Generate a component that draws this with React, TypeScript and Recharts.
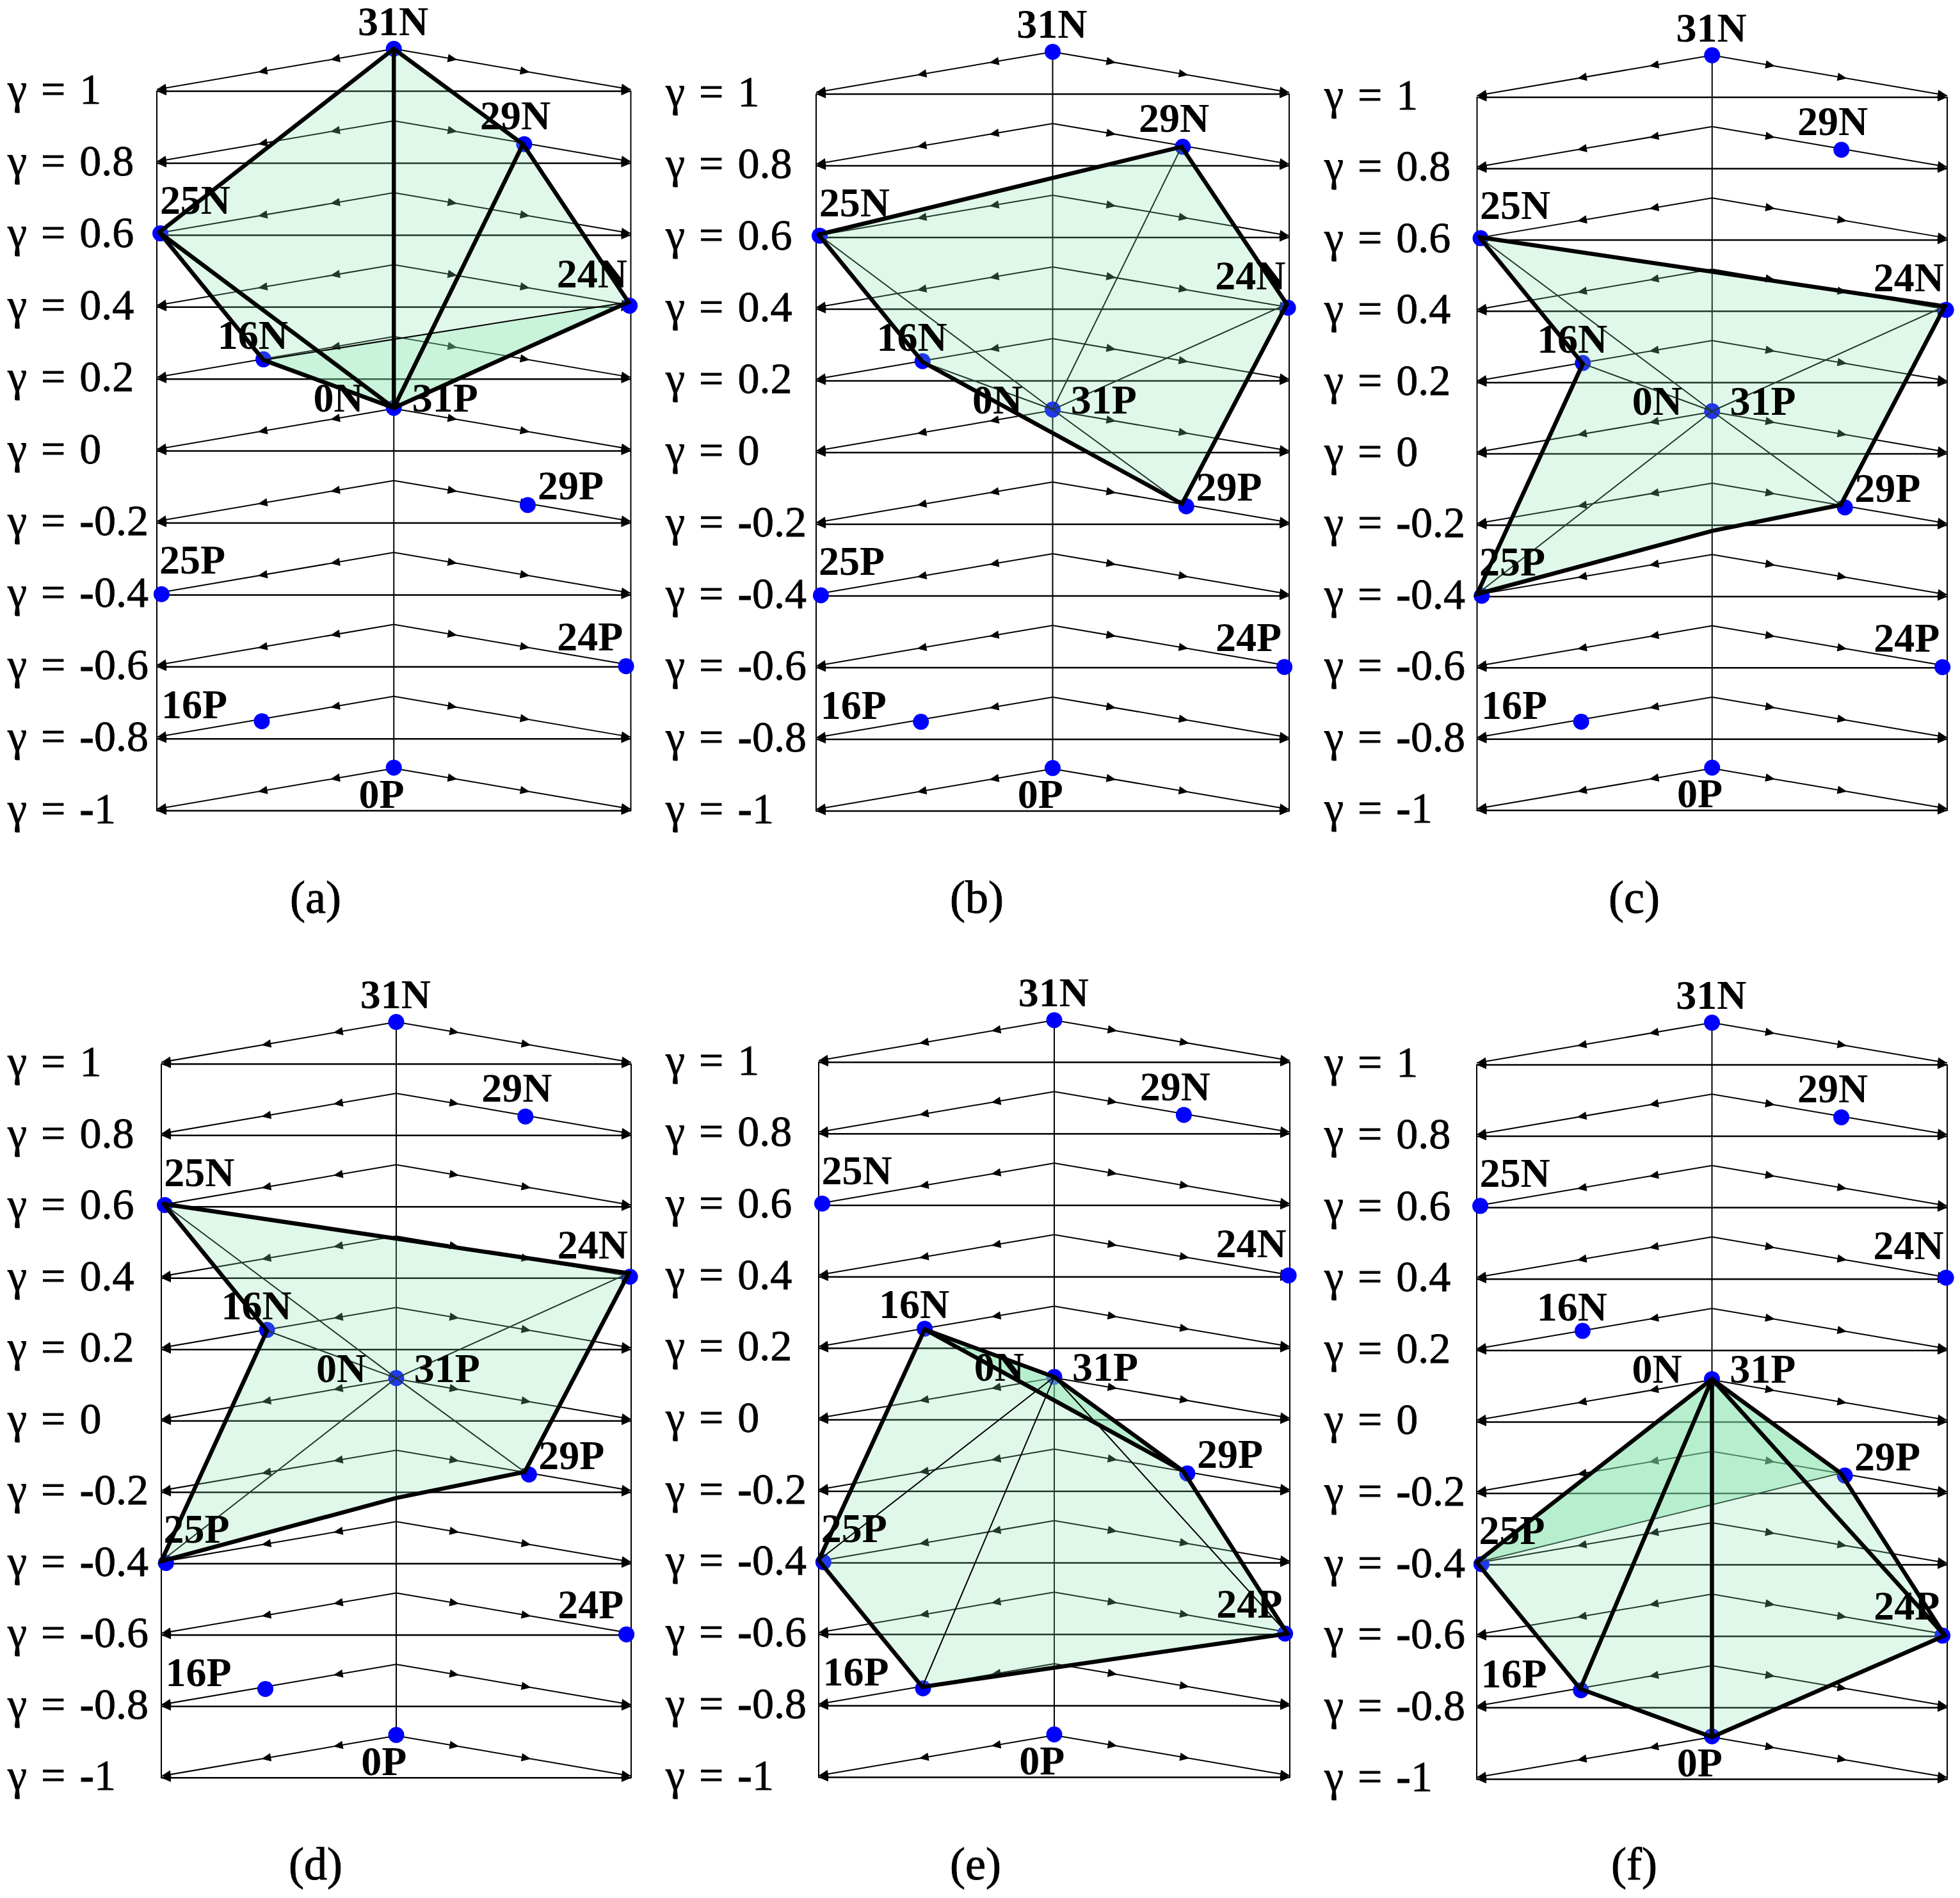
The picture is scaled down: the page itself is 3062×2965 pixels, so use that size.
import React from 'react';
import { ScatterChart, Scatter, XAxis, YAxis } from 'recharts';

const gammaLevels = [1, 0.8, 0.6, 0.4, 0.2, 0, -0.2, -0.4, -0.6, -0.8, -1];
const chevronApex = [1.118, 0.918, 0.718, 0.518, 0.318, 0.118, -0.082, -0.282, -0.482, -0.682, -0.882];
const chevronEnds = [1.005, 0.805, 0.605, 0.405, 0.205, 0.005, -0.195, -0.395, -0.595, -0.795, -0.995];

const nodeNames = ['31N', '29N', '25N', '24N', '16N', 'A', '29P', '25P', '24P', '16P', '0P'];
const dotX = [0, 0.55, -0.985, 0.995, -0.55, 0, 0.565, -0.98, 0.98, -0.557, 0];
const dotY = [1.118, 0.853, 0.605, 0.404, 0.255, 0.12, -0.15, -0.398, -0.598, -0.751, -0.88];
const cornerX = [0, 0.545, -0.99, 0.99, -0.55, 0, 0.547, -1, 0.99, -0.56, 0];
const cornerY = [1.118, 0.853, 0.608, 0.414, 0.253, 0.12, -0.143, -0.393, -0.598, -0.747, -0.882];

// the lower edge of (c) and (d) bends where it crosses the centre line
const bendX = 0;
const bendY = -0.216;

const labelNames = ['31N', '29N', '25N', '24N', '16N', '0N', '31P', '29P', '25P', '24P', '16P', '0P'];
const labelX = [-0.003, 0.513, -0.838, 0.836, -0.595, -0.234, 0.216, 0.746, -0.85, 0.828, -0.842, -0.052];
const labelY = [1.194, 0.932, 0.696, 0.493, 0.322, 0.147, 0.147, -0.097, -0.304, -0.516, -0.706, -0.954];

const panelNames = ['(a)', '(b)', '(c)', '(d)', '(e)', '(f)'];

const fillsA = [['25N', '31N', '29N', '24N', 'A', '16N'], ['16N', '24N', 'A']];
const boldA = [['25N', '31N', '29N', '24N', 'A', '16N', '25N'], ['25N', 'A'], ['31N', 'A'], ['29N', 'A']];
const thinOverA = [['16N', '24N']];

const fillsB = [['25N', '29N', '24N', '29P', '16N']];
const boldB = [['25N', '29N', '24N', '29P', '16N', '25N']];
const thinUnderB = [['A', '25N'], ['A', '29N'], ['A', '24N'], ['A', '29P'], ['A', '16N']];

const fillsC = [['25N', '24N', '29P', 'bend', '25P', '16N']];
const boldC = [['25N', '24N', '29P', 'bend', '25P', '16N', '25N']];
const thinUnderC = [['A', '25N'], ['A', '16N'], ['A', '24N'], ['A', '29P'], ['A', '25P']];

const fillsE = [['16N', 'A', '29P', '24P', '16P', '25P'], ['16N', 'A', '29P'], ['16N', 'A', '29P']];
const boldE = [['16N', 'A', '29P', '24P', '16P', '25P', '16N'], ['16N', '29P']];
const thinOverE = [['A', '25P'], ['A', '16P'], ['A', '24P']];

const fillsF = [['A', '29P', '24P', '0P', '16P', '25P'], ['A', '25P', '29P'], ['A', '25P', '29P']];
const boldF = [['A', '29P', '24P', '0P', '16P', '25P', 'A'], ['A', '16P'], ['A', '0P'], ['A', '24P']];
const thinUnderF = [['25P', '29P']];

const panels = [
    { frameX: 0, plotLeft: 245, plotRight: 985.5, top: 143, bottom: 1267, textX: 12, captionY: 1366, fills: fillsA, bold: boldA, thinUnder: [], thinOver: thinOverA },
    { frameX: 1020, plotLeft: 1275, plotRight: 2014, top: 147, bottom: 1267, textX: 20, captionY: 1366, fills: fillsB, bold: boldB, thinUnder: thinUnderB, thinOver: [] },
    { frameX: 2042, plotLeft: 2307.5, plotRight: 3042, top: 152, bottom: 1266, textX: 27, captionY: 1366, fills: fillsC, bold: boldC, thinUnder: thinUnderC, thinOver: [] },
    { frameX: 0, plotLeft: 252, plotRight: 986, top: 1662, bottom: 2777, textX: 12, captionY: 2876, fills: fillsC, bold: boldC, thinUnder: thinUnderC, thinOver: [] },
    { frameX: 1020, plotLeft: 1279, plotRight: 2015, top: 1660, bottom: 2777, textX: 20, captionY: 2876, fills: fillsE, bold: boldE, thinUnder: [], thinOver: thinOverE },
    { frameX: 2042, plotLeft: 2307, plotRight: 3042, top: 1663, bottom: 2779, textX: 27, captionY: 2876, fills: fillsF, bold: boldF, thinUnder: thinUnderF, thinOver: [] },
];

const captionCentre = [493, 1526, 2553, 493, 1524, 2553];

const SERIF = '"Liberation Serif", serif';
const arrowSpots = [0.268, 0.574, 1];
const endSpots = [1];

const corner = (name: string) => {
    if (name === 'bend') return { x: bendX, y: bendY };
    const i = nodeNames.indexOf(name);
    return { x: cornerX[i], y: cornerY[i] };
};

const dotRows = nodeNames.map((name, i) => ({ x: dotX[i], y: dotY[i], name }));
const labelRows = labelNames.map((name, i) => ({ x: labelX[i], y: labelY[i], name }));

const noShape = () => <g />;

// triangle whose tip sits t of the way from a to b
const arrowOn = (a: any, b: any, t: number, key: string) => {
    const dx = b.x - a.x;
    const dy = b.y - a.y;
    const len = Math.sqrt(dx * dx + dy * dy);
    const ux = dx / len;
    const uy = dy / len;
    const tx = a.x + dx * t;
    const ty = a.y + dy * t;
    const bx = tx - ux * 15;
    const by = ty - uy * 15;
    const pts = `${tx},${ty} ${bx - uy * 6.5},${by + ux * 6.5} ${bx + uy * 6.5},${by - ux * 6.5}`;
    return <polygon key={key} points={pts} fill="#000" />;
};

const arrowedPath = (spots: number[], width: number) => (props: any) => {
    const [left, mid, right] = props.points;
    return (
        <g>
            <polyline
                points={`${left.x},${left.y} ${mid.x},${mid.y} ${right.x},${right.y}`}
                fill="none"
                stroke="#000"
                strokeWidth={width}
            />
            {spots.map((t) => arrowOn(mid, left, t, `l${t}`))}
            {spots.map((t) => arrowOn(mid, right, t, `r${t}`))}
        </g>
    );
};

const plainPath = (width: number) => (props: any) => (
    <polyline
        points={props.points.map((p: any) => `${p.x},${p.y}`).join(' ')}
        fill="none"
        stroke="#000"
        strokeWidth={width}
        strokeLinejoin="miter"
        strokeLinecap="round"
    />
);

const facePath = (props: any) => (
    <polygon
        points={props.points.map((p: any) => `${p.x},${p.y}`).join(' ')}
        fill="rgb(131,228,172)"
        fillOpacity={0.25}
    />
);

const blueDot = (props: any) => <circle cx={props.cx} cy={props.cy} r={12.5} fill="#0000ff" />;

const nodeLabel = (props: any) => (
    <text
        x={props.cx}
        y={props.cy + 21}
        textAnchor="middle"
        fontFamily={SERIF}
        fontWeight="bold"
        fontSize={64}
        fill="#000"
    >
        {props.payload.name}
    </text>
);

const gammaTick = (textX: number) => (props: any) => {
    const value = props.payload.value;
    return (
        <text
            x={textX}
            y={props.y - 4}
            textAnchor="start"
            dominantBaseline="central"
            fontFamily={SERIF}
            fontSize={68}
            fill="#000"
            stroke="#000"
            strokeWidth={0.8}
            style={{ wordSpacing: '5px' }}
        >
            γ = {value < 0 && <tspan fontWeight="bold">-</tspan>}
            {Math.abs(value)}
        </text>
    );
};

const Panel = ({ panel, caption, centre }: any) => {
    const unit = (panel.bottom - panel.top) / 2;
    const chartTop = panel.top - 0.3 * unit;
    const chartWidth = panel.plotRight - panel.frameX + 20;
    const chartHeight = panel.bottom - chartTop + 50;
    const axisWidth = panel.plotLeft - panel.frameX;

    return (
        <>
            <div style={{ position: 'absolute', left: panel.frameX, top: chartTop }}>
                <ScatterChart
                    width={chartWidth}
                    height={chartHeight}
                    margin={{ top: 0, right: 20, bottom: 50, left: 0 }}
                >
                    <XAxis type="number" dataKey="x" domain={[-1, 1]} hide />
                    <YAxis
                        type="number"
                        dataKey="y"
                        domain={[-1, 1.3]}
                        ticks={gammaLevels}
                        interval={0}
                        width={axisWidth}
                        axisLine={false}
                        tickLine={false}
                        tick={gammaTick(panel.textX)}
                    />

                    <Scatter
                        data={[{ x: -1, y: 1 }, { x: -1, y: -1 }]}
                        line={plainPath(2)}
                        shape={noShape}
                        isAnimationActive={false}
                    />
                    <Scatter
                        data={[{ x: 1, y: 1 }, { x: 1, y: -1 }]}
                        line={plainPath(2)}
                        shape={noShape}
                        isAnimationActive={false}
                    />
                    <Scatter
                        data={[{ x: 0, y: chevronApex[0] }, { x: 0, y: chevronApex[10] }]}
                        line={plainPath(2)}
                        shape={noShape}
                        isAnimationActive={false}
                    />

                    {gammaLevels.map((level, i) => (
                        <Scatter
                            key={`h${i}`}
                            data={[{ x: -1, y: level }, { x: 0, y: level }, { x: 1, y: level }]}
                            line={arrowedPath(endSpots, 2.5)}
                            shape={noShape}
                            isAnimationActive={false}
                        />
                    ))}
                    {chevronApex.map((apex, i) => (
                        <Scatter
                            key={`c${i}`}
                            data={[{ x: -1, y: chevronEnds[i] }, { x: 0, y: apex }, { x: 1, y: chevronEnds[i] }]}
                            line={arrowedPath(arrowSpots, 2)}
                            shape={noShape}
                            isAnimationActive={false}
                        />
                    ))}

                    <Scatter data={dotRows} shape={blueDot} isAnimationActive={false} />

                    {panel.thinUnder.map((names: string[], i: number) => (
                        <Scatter
                            key={`tu${i}`}
                            data={names.map(corner)}
                            line={plainPath(2)}
                            shape={noShape}
                            isAnimationActive={false}
                        />
                    ))}
                    {panel.fills.map((names: string[], i: number) => (
                        <Scatter
                            key={`f${i}`}
                            data={names.map(corner)}
                            line={facePath}
                            shape={noShape}
                            isAnimationActive={false}
                        />
                    ))}
                    {panel.thinOver.map((names: string[], i: number) => (
                        <Scatter
                            key={`to${i}`}
                            data={names.map(corner)}
                            line={plainPath(2)}
                            shape={noShape}
                            isAnimationActive={false}
                        />
                    ))}
                    {panel.bold.map((names: string[], i: number) => (
                        <Scatter
                            key={`b${i}`}
                            data={names.map(corner)}
                            line={plainPath(6.5)}
                            shape={noShape}
                            isAnimationActive={false}
                        />
                    ))}

                    <Scatter data={labelRows} shape={nodeLabel} isAnimationActive={false} />
                </ScatterChart>
            </div>
            <div
                style={{
                    position: 'absolute',
                    left: centre - 100,
                    top: panel.captionY,
                    width: 200,
                    textAlign: 'center',
                    fontFamily: SERIF,
                    fontSize: 72,
                    lineHeight: '72px',
                    color: '#000',
                    WebkitTextStroke: '1px #000',
                }}
            >
                {caption}
            </div>
        </>
    );
};

const App: React.FC = () => {
    return (
        <div style={{ position: 'absolute', left: 0, top: 0, width: 3062, height: 2965, background: '#fff', overflow: 'hidden' }}>
            {panels.map((panel, i) => (
                <Panel key={panelNames[i]} panel={panel} caption={panelNames[i]} centre={captionCentre[i]} />
            ))}
        </div>
    );
};

export default App;
